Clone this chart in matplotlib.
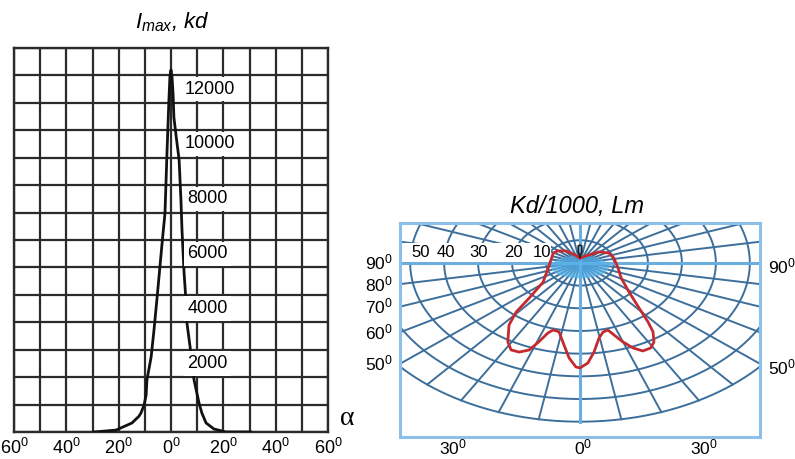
import numpy as np
import matplotlib

matplotlib.use("Agg")
import matplotlib.pyplot as plt
from matplotlib.patches import Rectangle, Ellipse

plt.rcParams["font.family"] = ["Liberation Sans", "DejaVu Sans"]
plt.rcParams["mathtext.fontset"] = "custom"
plt.rcParams["mathtext.rm"] = "Liberation Sans"
plt.rcParams["mathtext.it"] = "Liberation Sans:italic"
plt.rcParams["mathtext.bf"] = "Liberation Sans:bold"

# left panel: luminous intensity vs angle (kd)
alpha_deg = [-29.4, -21, -14.9, -12.2, -11.5, -10.3, -9.5, -9.2, -7.6, -6.5, -5.3, -3.4, -2.3,
             -1.5, -0.8, -0.4, 0, 0.4, 0.8, 1.1, 1.9, 3.1, 3.8, 4.2, 5.0, 5.7, 6.1, 7.6, 8.8,
             10.7, 11.8, 13.4, 16.4, 21, 30.5]
intensity_kd = [0, 70, 330, 580, 690, 980, 1350, 1900, 2730, 3720, 4920, 6890, 7980,
                10280, 12100, 13000, 13200, 12940, 12290, 11480, 10830, 9920, 8460, 7360, 5800,
                4810, 3970, 2880, 1900, 1060, 690, 330, 110, 0, 0]
kd_labels = [12000, 10000, 8000, 6000, 4000, 2000]
alpha_ticks = [-60, -40, -20, 0, 20, 40, 60]

# right panel: polar diagram (Kd/1000), angle from nadir, + to the right
polar_angle = [-180, -152, -142, -129, -119, -84, -52, -44, -41, -37.4, -31.4, -27.9, -24.5,
               -21.3, -19.2, -17, -15, -11.5, -7.4, -4.4, -1.5, 0, 3, 6, 9.6, 12.6, 15.5, 17.5,
               19.9, 22.6, 25.5, 29, 32, 35.3, 37.6, 41.2, 48.4, 61.4, 79, 102, 117, 131, 143, 180]
polar_value = [2.2, 4.5, 6.7, 8.4, 9.0, 9.1, 13.8, 21.5, 28.6, 34.4, 40.8, 43.4, 43.2,
               41.2, 36.8, 32.3, 30.6, 31.0, 36.5, 42.0, 45.9, 46.3, 44.2, 39.5, 33.6, 31.2, 30.7, 33.3,
               37.0, 40.6, 43.0, 42.9, 41.1, 37.2, 32.8, 26.4, 19.3, 13.8, 11.4, 10.2, 9.6, 7.4, 4.4, 2.2]
small_angle = [180, 174, 176, 180, 184, 186, 180]
small_value = [2.6, 5.0, 7.5, 7.9, 7.5, 5.0, 2.6]
ring_values = [10, 20, 30, 40, 50, 60, 70]
ring_labels = [50, 40, 30, 20, 10]
side_angles = [90, 80, 70, 60, 50]
right_side_angles = [90, 50]
bottom_labels = [30, 0, 30]


def deg(v):
    return f"{v}$^0$"


def polar_xy(angle, value):
    a = np.radians(np.asarray(angle, dtype=float))
    r = np.asarray(value, dtype=float)
    return r * np.sin(a), -r * np.cos(a)


fig = plt.figure(figsize=(7.95, 4.59), dpi=100)
W, H = 795, 459

# ---------- left panel ----------
ax = fig.add_axes([14 / W, 27 / H, 314 / W, 384 / H])
ax.set_xlim(-60, 60)
ax.set_ylim(0, 14000)
ax.set_xticks(alpha_ticks)
ax.set_xticklabels([deg(abs(t)) for t in alpha_ticks], fontsize=13)
ax.set_xticks(range(-50, 51, 20), minor=True)
ax.set_yticks(range(0, 14001, 1000))
ax.set_yticklabels([])
ax.tick_params(which="both", length=0, pad=4)
ax.grid(which="both", color="#2b2b2b", linewidth=1.6)
for s in ax.spines.values():
    s.set_color("#2b2b2b")
    s.set_linewidth(1.7)
ax.plot(alpha_deg, intensity_kd, color="#111111", linewidth=2.0, zorder=3,
        solid_joinstyle="round")
for v in kd_labels:
    ax.text(15.0 if v >= 10000 else 14.0, v + 500, str(v), fontsize=13, ha="center",
            va="center", zorder=4,
            bbox=dict(boxstyle="square,pad=0.2", facecolor="white", edgecolor="none"))
ax.text(1.06, 0.036, "α", transform=ax.transAxes, fontsize=20, ha="center", va="center",
        family=["Liberation Serif", "DejaVu Serif"])
fig.text(172 / W, 1 - 22 / H, r"$\mathit{I}_{\mathit{max}}$, kd", fontsize=16,
         fontstyle="italic", ha="center", va="center")

# ---------- right panel ----------
bx = fig.add_axes([400 / W, 22 / H, 360 / W, 214 / H])
xmax = 53
bx.set_xlim(-xmax, xmax)
bx.set_ylim(-76.75, 17.6)
bx.set_xticks([])
bx.set_yticks([])
for s in bx.spines.values():
    s.set_color("#8cc0e8")
    s.set_linewidth(2.2)

grid_c = "#3d6f9c"
t = np.linspace(0, 360, 721)
for r in ring_values:
    gx, gy = polar_xy(t, np.full_like(t, r))
    bx.plot(gx, gy, color=grid_c, linewidth=1.4, zorder=1)
for a in range(0, 360, 10):
    gx, gy = polar_xy([a, a], [0, ring_values[-1]])
    light = a % 90 == 0
    bx.plot(gx, gy, color="#6aaee0" if light else grid_c,
            linewidth=2.2 if light else 1.4, zorder=1.5 if light else 1)

bx.add_patch(Ellipse((0, -1.8), 17, 10, facecolor="#55b2ea", edgecolor="none",
                     alpha=0.7, zorder=2))
bx.add_patch(Rectangle((-52.4, 0.6), 43.9, 8.2, facecolor="white", edgecolor="none", zorder=3))
label_x = [-46.8, -39.4, -30, -19.7, -11.2]
for lx, v in zip(label_x, ring_labels):
    bx.text(lx, 4.5, str(v), fontsize=12, ha="center", va="center", zorder=4)

px, py = polar_xy(polar_angle, polar_value)
bx.plot(px, py, color="#c42a2e", linewidth=2.0, zorder=5, solid_joinstyle="round")
sx, sy = polar_xy(small_angle, small_value)
bx.plot(sx, sy, color="#222222", linewidth=1.2, zorder=5)

for a in side_angles:
    bx.text(-xmax - 2, -xmax / np.tan(np.radians(a)), deg(a), fontsize=12.5,
            ha="right", va="center", clip_on=False)
for a in right_side_angles:
    bx.text(xmax + 2.5, -xmax / np.tan(np.radians(a)) - 1.5, deg(a), fontsize=12.5,
            ha="left", va="center", clip_on=False)
for lx, v in zip([-37.5, 0.8, 36.5], bottom_labels):
    bx.text(lx, -81.5, deg(v), fontsize=12.5, ha="center", va="center", clip_on=False)

fig.text(577 / W, 1 - 206 / H, "Kd/1000, Lm", fontsize=17, fontstyle="italic",
         ha="center", va="center")

fig.savefig("out.png", dpi=100)
